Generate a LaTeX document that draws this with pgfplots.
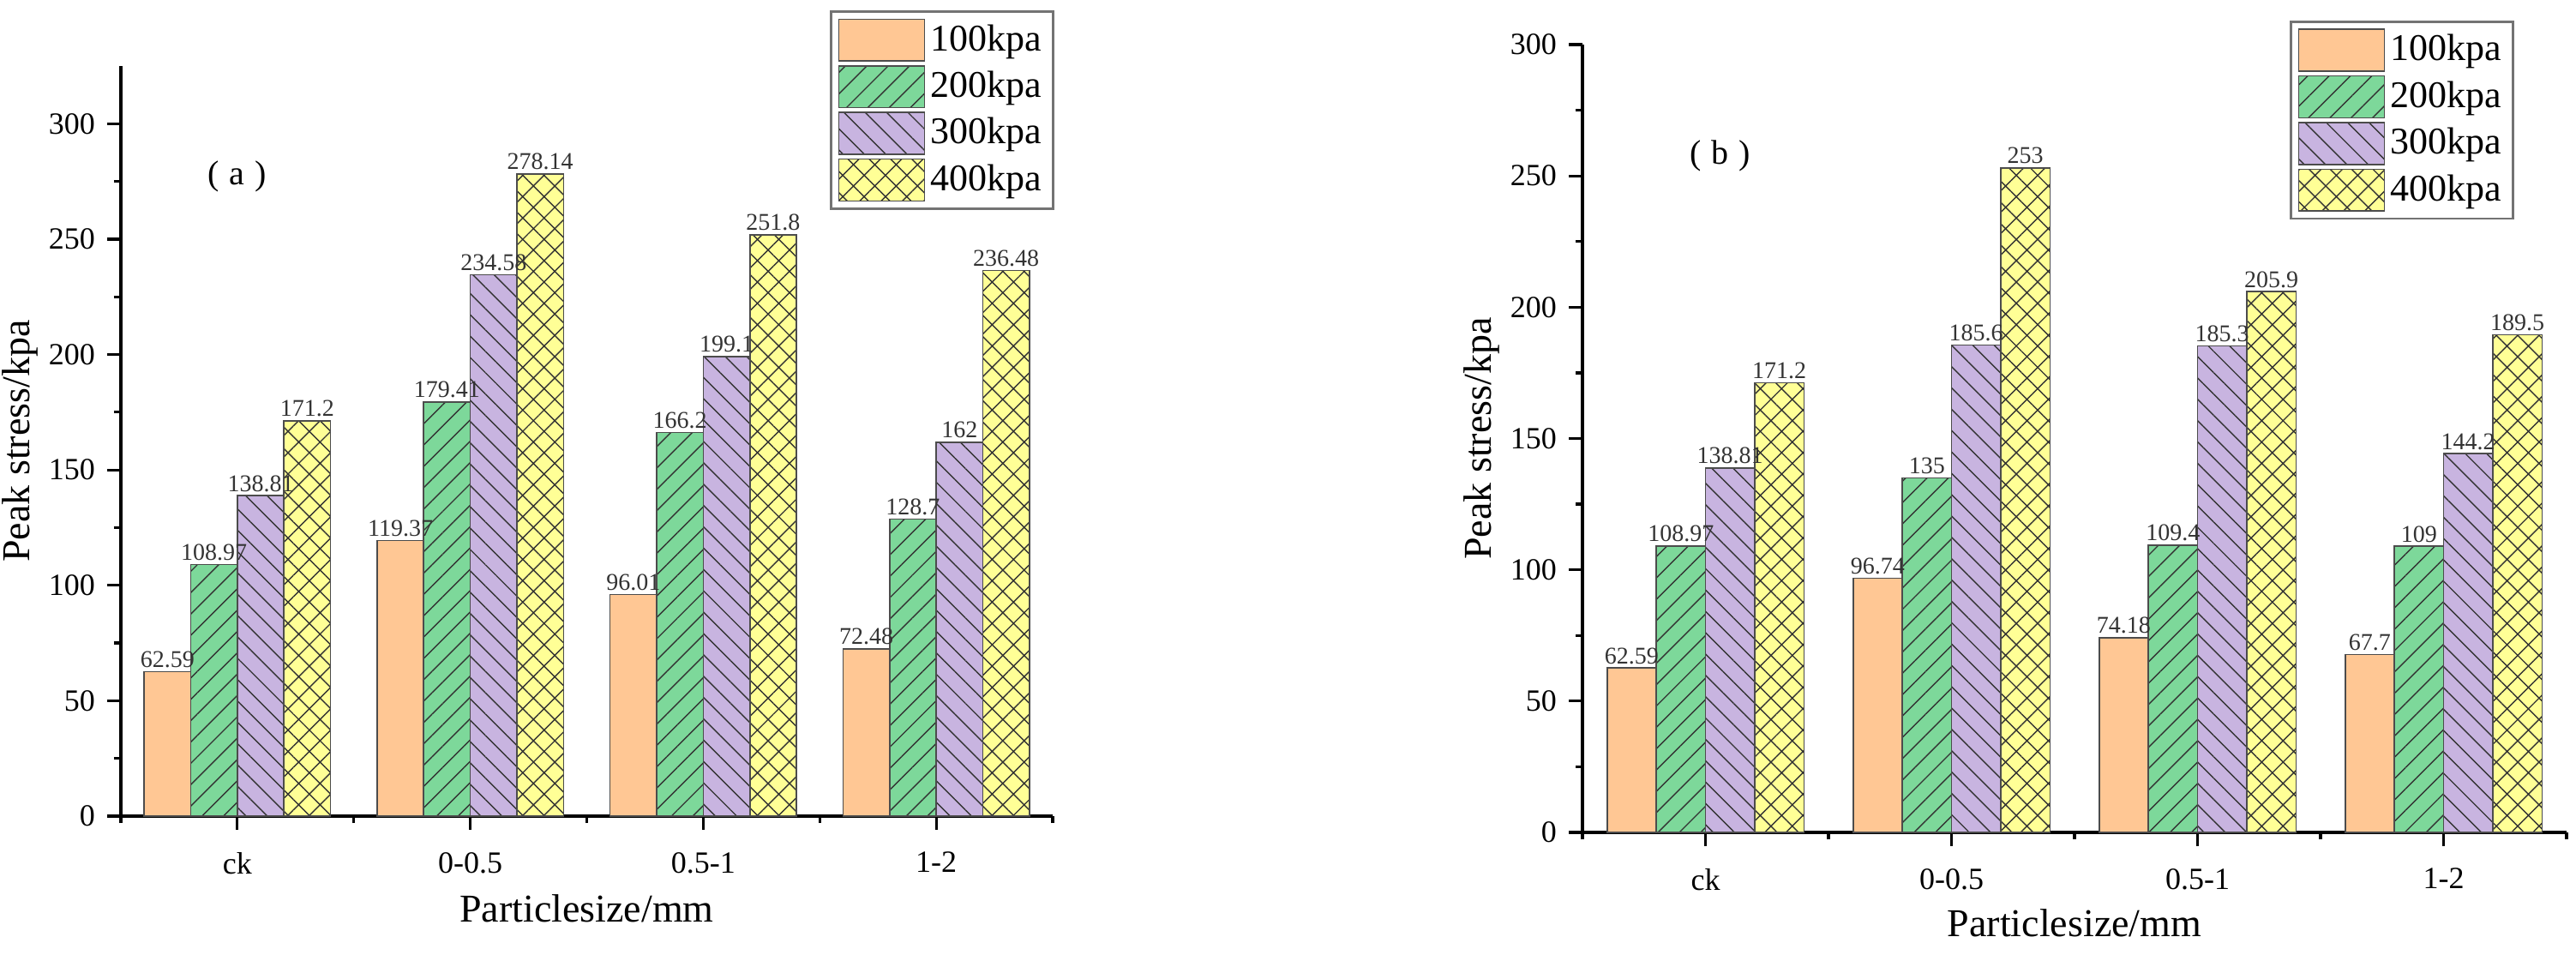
\documentclass[border=0pt]{standalone}
\usepackage{fontspec}
\setmainfont{Liberation Serif}
\usepackage{pgfplots}
\pgfplotsset{compat=1.18}
\usetikzlibrary{patterns.meta}

\definecolor{cOrange}{RGB}{255,199,148}
\definecolor{cGreen}{RGB}{125,216,154}
\definecolor{cPurple}{RGB}{200,180,224}
\definecolor{cYellow}{RGB}{255,255,150}

\pgfplotsset{
  peak/.style={
    scale only axis,
    ybar,
    xmin=-0.5, xmax=3.5,
    ymin=0,
    xtick={0,1,2,3},
    xticklabels={ck,0-0.5,0.5-1,1-2},
    minor xtick={-0.5,0.5,1.5,2.5,3.5},
    ytick={0,50,...,300},
    minor y tick num=1,
    axis x line*=bottom,
    axis y line*=left,
    axis line style={line width=1pt, black},
    tick align=outside,
    major tick length=4pt,
    minor tick length=2pt,
    every tick/.style={black, line width=0.8pt},
    /pgf/number format/assume math mode=true,
    tick label style={font=\fontsize{9}{10}\selectfont},
    xticklabel style={yshift=-3pt},
    bar width=0.2,
    point meta=explicit symbolic,
    nodes near coords,
    every node near coord/.append style={font=\fontsize{7}{8}\selectfont, text=black!80, inner sep=1pt, anchor=south},
    legend cell align=left,
    legend image code/.code={\draw[##1] (0pt,-6.1pt) rectangle (25pt,6.1pt);},
    legend style={draw=black!55, line width=0.7pt, anchor=north east,
      font=\fontsize{11}{12}\selectfont, inner xsep=2pt, inner ysep=2pt,
      row sep=1pt, nodes={inner sep=1.5pt}},
    label style={font=\fontsize{11.5}{12}\selectfont},
    clip=false,
  },
  s1/.style={fill=cOrange, draw=black!70, line width=0.4pt, bar shift=-0.3},
  s2/.style={fill=cGreen, draw=black!70, line width=0.4pt, bar shift=-0.1,
    postaction={pattern={Lines[angle=45,distance=4.4pt,line width=0.35pt]}, pattern color=black!80}},
  s3/.style={fill=cPurple, draw=black!70, line width=0.4pt, bar shift=0.1,
    postaction={pattern={Lines[angle=-45,distance=4.4pt,line width=0.35pt]}, pattern color=black!80}},
  s4/.style={fill=cYellow, draw=black!70, line width=0.4pt, bar shift=0.3,
    postaction={pattern={Hatch[angle=45,distance=4.4pt,line width=0.35pt]}, pattern color=black!80}},
}

\begin{document}
\begin{tikzpicture}
\useasboundingbox (0,0) rectangle (751.25pt,278.25pt);

% (a)
\begin{axis}[peak,
  at={(35.25pt,40.25pt)}, anchor=south west,
  width=271.75pt, height=218.75pt,
  ymax=325,
  xlabel={Particlesize/mm}, ylabel={Peak stress/kpa},
  xlabel style={at={(axis description cs:0.5,-0.1234)}, anchor=center},
  ylabel style={at={(axis description cs:-0.1086,0.5)}, anchor=center},
  legend style={at={(axis description cs:1.002,1.074)}},
]
\addplot[s1] coordinates {(0,62.59) [62.59] (1,119.37) [119.37] (2,96.01) [96.01] (3,72.48) [72.48]};
\addplot[s2] coordinates {(0,108.97) [108.97] (1,179.41) [179.41] (2,166.2) [166.2] (3,128.7) [128.7]};
\addplot[s3] coordinates {(0,138.81) [138.81] (1,234.58) [234.58] (2,199.1) [199.1] (3,162) [162]};
\addplot[s4] coordinates {(0,171.2) [171.2] (1,278.14) [278.14] (2,251.8) [251.8] (3,236.48) [236.48]};
\legend{100kpa,200kpa,300kpa,400kpa}
\node[font=\fontsize{10}{12}\selectfont] at (axis cs:0,277) {(\hspace{0.3em}a\hspace{0.3em})};
\end{axis}

% (b)
\begin{axis}[peak,
  at={(461.5pt,35.5pt)}, anchor=south west,
  width=287pt, height=229.75pt,
  ymax=300,
  xlabel={Particlesize/mm}, ylabel={Peak stress/kpa},
  xlabel style={at={(axis description cs:0.5,-0.1153)}, anchor=center},
  ylabel style={at={(axis description cs:-0.1028,0.5)}, anchor=center},
  legend style={at={(axis description cs:0.947,1.0305)}},
]
\addplot[s1] coordinates {(0,62.59) [62.59] (1,96.74) [96.74] (2,74.18) [74.18] (3,67.7) [67.7]};
\addplot[s2] coordinates {(0,108.97) [108.97] (1,135) [135] (2,109.4) [109.4] (3,109) [109]};
\addplot[s3] coordinates {(0,138.81) [138.81] (1,185.6) [185.6] (2,185.3) [185.3] (3,144.2) [144.2]};
\addplot[s4] coordinates {(0,171.2) [171.2] (1,253) [253] (2,205.9) [205.9] (3,189.5) [189.5]};
\legend{100kpa,200kpa,300kpa,400kpa}
\node[font=\fontsize{10}{12}\selectfont] at (axis cs:0.06,257.6) {(\hspace{0.3em}b\hspace{0.3em})};
\end{axis}
\end{tikzpicture}
\end{document}
